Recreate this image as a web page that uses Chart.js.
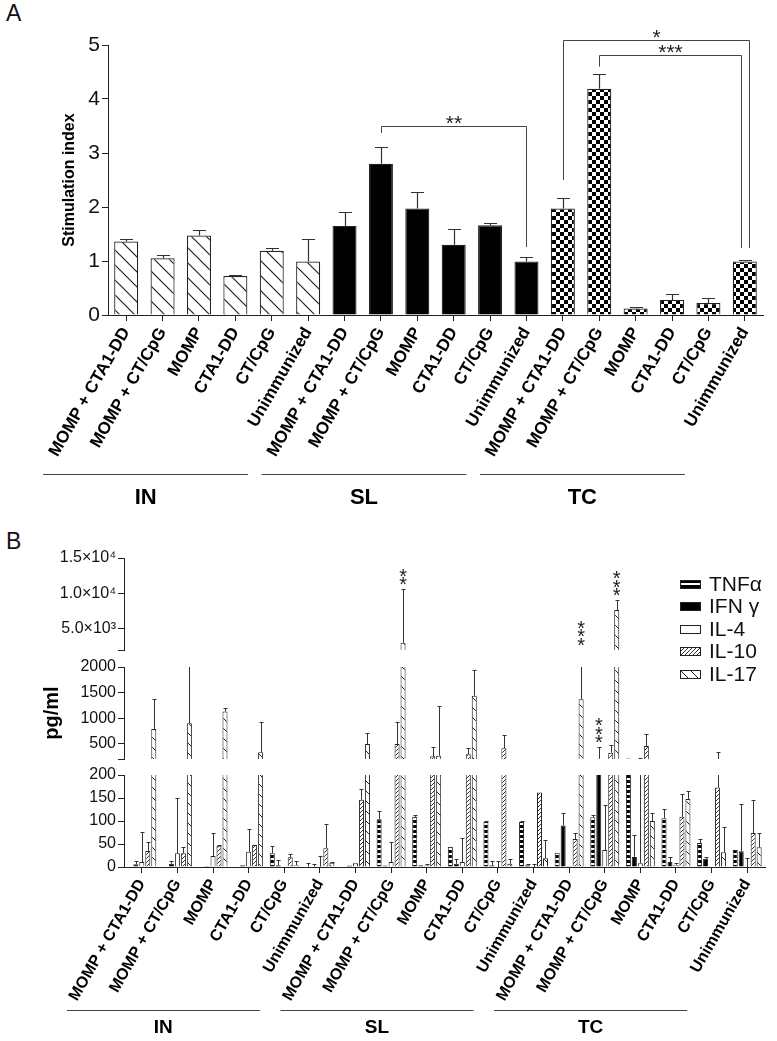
<!DOCTYPE html>
<html>
<head>
<meta charset="utf-8">
<script src="https://cdn.jsdelivr.net/npm/chart.js@4.4.1/dist/chart.umd.min.js"></script>
<style>
  body { margin: 0; background: #fff; width: 777px; height: 1041px; position: relative; overflow: hidden; font-family: "Liberation Sans", Arial, sans-serif; }
  canvas { position: absolute; left: 0; }
  .letter { position: absolute; left: 6px; font-size: 23px; line-height: 23px; color: #111; }
</style>
</head>
<body>
<div class="letter" style="top:2px">A</div>
<div class="letter" style="top:530px">B</div>
<canvas id="chartA" width="777" height="520" style="top:0"></canvas>
<canvas id="chartBMid" width="777" height="110" style="top:655px"></canvas>
<canvas id="chartBLow" width="777" height="276" style="top:765px"></canvas>
<canvas id="chartBTop" width="777" height="160" style="top:540px"></canvas>
<script>
// ---- shared categories ----
const treatments = ['MOMP + CTA1-DD', 'MOMP + CT/CpG', 'MOMP', 'CTA1-DD', 'CT/CpG', 'Unimmunized'];
const routes = ['IN', 'SL', 'TC'];
const labels = routes.flatMap(() => treatments);

// ---- panel A: stimulation index (mean, top of error bar) ----
const siMean = [1.36, 1.05, 1.47, 0.72, 1.19, 0.99, 1.65, 2.80, 1.97, 1.30, 1.66, 0.99, 1.97, 4.19, 0.12, 0.28, 0.22, 0.99];
const siErr  = [1.40, 1.11, 1.57, 0.75, 1.24, 1.40, 1.91, 3.11, 2.28, 1.59, 1.71, 1.07, 2.17, 4.46, 0.15, 0.39, 0.31, 1.02];
const siTicks = [0, 1, 2, 3, 4, 5];
// significance brackets: bar indices, bracket level and leg ends in data units
const siBrackets = [
  { from: 7, to: 11, top: 3.50, fromEnd: 3.37, toEnd: 1.26, label: '**', shift: 0 },
  { from: 12, to: 17, top: 5.10, fromEnd: 2.50, toEnd: 1.24, label: '*', shift: 4 },
  { from: 13, to: 17, top: 4.81, fromEnd: 4.60, toEnd: 1.24, label: '***', shift: -4 }
];

// ---- panel B: cytokines, pg/ml (value, top of error bar) ----
const cytokines = ['TNFα', 'IFN γ', 'IL-4', 'IL-10', 'IL-17'];
const tnf     = [0, 0, 0, 0, 30, 1,   1, 104, 109, 44, 98, 98,   31, 108, 212, 106, 52, 37];
const tnfErr  = [0, 0, 0, 0, 46, 8,   1, 122, 113, 44, 100, 101,  31, 113, 212, 126, 60, 37];
const ifn     = [6, 7, 2, 4, 4, 1,    3, 3, 4, 7, 4, 4,          90, 205, 22, 11, 18, 34];
const ifnErr  = [12, 12, 2, 4, 15, 6, 3, 3, 4, 17, 12, 7,        117, 430, 69, 21, 22, 136];
const il4     = [11, 30, 24, 33, 0, 1, 8, 11, 3, 11, 0, 0,       2, 37, 8, 5, 1, 0];
const il4Err  = [77, 149, 75, 83, 0, 24, 8, 55, 7, 64, 13, 6,    2, 135, 210, 9, 1, 19];
const il10    = [35, 30, 46, 48, 21, 41, 146, 494, 252, 292, 409, 162, 61, 324, 455, 109, 173, 74];
const il10Err = [55, 44, 48, 48, 28, 93, 170, 920, 429, 422, 671, 162, 75, 468, 684, 159, 344, 146];
const il17    = [789, 900, 1129, 331, 4, 9, 494, 3036, 265, 1437, 7, 19, 1371, 7652, 100, 148, 32, 43];
const il17Err = [1378, 2050, 1195, 920, 12, 11, 710, 10572, 1240, 1947, 18, 58, 2050, 9018, 117, 165, 86, 75];
const bTopTicks = [2000, 5000, 10000, 15000];
const bTopTickLabels = ['', '5.0×10³', '1.0×10⁴', '1.5×10⁴'];
const bMidTicks = [200, 500, 1000, 1500, 2000];
const bMidTickLabels = ['', '500', '1000', '1500', '2000'];
const bLowTicks = [0, 50, 100, 150, 200];
const bLowTickLabels = ['0', '50', '100', '150', '200'];
const sigMarks = [
  { cat: 7, series: 4, text: '**' },
  { cat: 12, series: 4, text: '***' },
  { cat: 13, series: 1, text: '***' },
  { cat: 13, series: 4, text: '***' }
];

// ---- patterns ----
function pattern(w, h, draw) {
  const c = document.createElement('canvas');
  c.width = w; c.height = h;
  const g = c.getContext('2d');
  draw(g, w, h);
  return g.createPattern(c, 'repeat');
}
function hatch(size, dir, color, lw) {
  return pattern(size, size, (g, s) => {
    g.fillStyle = '#fff'; g.fillRect(0, 0, s, s);
    g.strokeStyle = color; g.lineWidth = lw;
    g.beginPath();
    if (dir === 'back') {
      g.moveTo(-1, -1); g.lineTo(s + 1, s + 1);
      g.moveTo(s - 1, -1); g.lineTo(s + 1, 1);
      g.moveTo(-1, s - 1); g.lineTo(1, s + 1);
    } else {
      g.moveTo(-1, s + 1); g.lineTo(s + 1, -1);
      g.moveTo(-1, 1); g.lineTo(1, -1);
      g.moveTo(s - 1, s + 1); g.lineTo(s + 1, s - 1);
    }
    g.stroke();
  });
}
const hatchA = hatch(15, 'back', '#222', 1.2);
const checker = pattern(8, 8, (g) => {
  g.fillStyle = '#fff'; g.fillRect(0, 0, 8, 8);
  g.fillStyle = '#000'; g.fillRect(0, 0, 4, 4); g.fillRect(4, 4, 4, 4);
});
const tnfFill = pattern(4, 5, (g) => {
  g.fillStyle = '#000'; g.fillRect(0, 0, 4, 5);
  g.fillStyle = '#fff'; g.fillRect(0, 3, 4, 2);
});
const il10Fill = hatch(4, 'fwd', '#333', 1);
const il17Fill = hatch(10, 'back', '#222', 1);

const FONT = '"Liberation Sans", Arial, sans-serif';
const AXIS = '#222';

// ---- plugins ----
const errorBars = {
  id: 'errorBars',
  afterDatasetsDraw(chart, args, o) {
    const { ctx, chartArea: a } = chart;
    const y = chart.scales.y;
    ctx.save();
    if (o.clip) { ctx.beginPath(); ctx.rect(a.left - 5, a.top, a.right - a.left + 10, a.bottom - a.top); ctx.clip(); }
    ctx.strokeStyle = o.color; ctx.lineWidth = o.width;
    chart.data.datasets.forEach((ds, i) => {
      chart.getDatasetMeta(i).data.forEach((bar, j) => {
        const v = ds.data[j], e = ds.errTop[j];
        if (!(e > v)) return;
        const x = Math.round(bar.x) + 0.5;
        const yv = y.getPixelForValue(v), ye = Math.round(y.getPixelForValue(e)) + 0.5;
        ctx.beginPath();
        ctx.moveTo(x, yv); ctx.lineTo(x, ye);
        ctx.moveTo(x - o.cap / 2, ye); ctx.lineTo(x + o.cap / 2, ye);
        ctx.stroke();
      });
    });
    ctx.restore();
  }
};

const groupLabels = {
  id: 'groupLabels',
  afterDraw(chart, args, o) {
    const { ctx, chartArea: a } = chart;
    const x = chart.scales.x;
    ctx.save();
    ctx.strokeStyle = '#444'; ctx.lineWidth = 1;
    ctx.fillStyle = '#000';
    ctx.font = 'bold ' + o.size + 'px ' + FONT;
    ctx.textAlign = 'center'; ctx.textBaseline = 'middle';
    routes.forEach((name, g) => {
      const x0 = x.getPixelForValue(g * treatments.length) - o.left;
      const x1 = x.getPixelForValue(g * treatments.length + treatments.length - 1) - o.right;
      const yl = Math.round(a.bottom + o.lineY) + 0.5;
      ctx.beginPath(); ctx.moveTo(x0, yl); ctx.lineTo(x1, yl); ctx.stroke();
      ctx.fillText(name, (x0 + x1) / 2, a.bottom + o.textY);
    });
    ctx.restore();
  }
};

const brackets = {
  id: 'brackets',
  afterDraw(chart) {
    const { ctx } = chart;
    const x = chart.scales.x, y = chart.scales.y;
    ctx.save();
    ctx.strokeStyle = '#444'; ctx.lineWidth = 1;
    ctx.fillStyle = '#222'; ctx.font = '21px ' + FONT;
    ctx.textAlign = 'center'; ctx.textBaseline = 'alphabetic';
    siBrackets.forEach(b => {
      const x0 = Math.round(x.getPixelForValue(b.from)) + 0.5;
      const x1 = Math.round(x.getPixelForValue(b.to) + b.shift) + 0.5;
      const yt = Math.round(y.getPixelForValue(b.top)) + 0.5;
      ctx.beginPath();
      ctx.moveTo(x0, y.getPixelForValue(b.fromEnd)); ctx.lineTo(x0, yt);
      ctx.lineTo(x1, yt); ctx.lineTo(x1, y.getPixelForValue(b.toEnd));
      ctx.stroke();
      ctx.fillText(b.label, (x0 + x1) / 2, yt + 3);
    });
    ctx.restore();
  }
};

const sigStars = {
  id: 'sigStars',
  afterDatasetsDraw(chart) {
    const { ctx } = chart;
    const y = chart.scales.y;
    ctx.save();
    ctx.fillStyle = '#222'; ctx.font = '20px ' + FONT;
    ctx.textAlign = 'center'; ctx.textBaseline = 'alphabetic';
    sigMarks.forEach(m => {
      const e = chart.data.datasets[m.series].errTop[m.cat];
      if (e < y.min || e > y.max) return;
      const bar = chart.getDatasetMeta(m.series).data[m.cat];
      const ye = y.getPixelForValue(e);
      for (let k = 0; k < m.text.length; k++) {
        ctx.fillText('*', bar.x, ye - 9 - k * 8.5 + 11);
      }
    });
    ctx.restore();
  }
};

const cytoLegend = {
  id: 'cytoLegend',
  afterDraw(chart, args, o) {
    const { ctx, chartArea: a } = chart;
    ctx.save();
    ctx.font = '21px ' + FONT; ctx.textBaseline = 'middle';
    chart.data.datasets.forEach((ds, i) => {
      const yc = Math.round(a.top + o.top + i * o.step);
      const x0 = Math.round(a.right - o.right);
      ctx.fillStyle = ds.backgroundColor;
      ctx.fillRect(x0, yc - 4, 21, 9);
      ctx.strokeStyle = '#222'; ctx.lineWidth = 1;
      ctx.strokeRect(x0 + 0.5, yc - 3.5, 20, 8);
      ctx.fillStyle = '#111';
      ctx.fillText(ds.label, x0 + 29, yc + 1);
    });
    ctx.restore();
  }
};

// ---- panel A ----
const groupFill = [hatchA, '#000', checker];
new Chart(document.getElementById('chartA'), {
  type: 'bar',
  data: {
    labels: labels,
    datasets: [{
      label: 'Stimulation index',
      data: siMean,
      errTop: siErr,
      backgroundColor: labels.map((_, i) => groupFill[Math.floor(i / treatments.length)]),
      borderColor: AXIS,
      borderWidth: 1.2,
      categoryPercentage: 1,
      barPercentage: 0.66
    }]
  },
  options: {
    responsive: false,
    animation: false,
    layout: { padding: { left: 56, right: 14, top: 45, bottom: 0 } },
    plugins: {
      legend: { display: false },
      tooltip: { enabled: false },
      errorBars: { color: '#333', width: 1.2, cap: 13, clip: false },
      groupLabels: { size: 22, left: 83, right: 60, lineY: 159, textY: 183 }
    },
    scales: {
      x: {
        afterFit: s => { s.height = 205; s.paddingLeft = 0; s.paddingRight = 0; },
        grid: { offset: false, drawOnChartArea: false, tickLength: 6, color: AXIS },
        border: { color: AXIS, width: 1 },
        ticks: { autoSkip: false, minRotation: 60, maxRotation: 60, padding: 3, color: '#000', font: { family: FONT, size: 17, weight: 'bold' } }
      },
      y: {
        min: 0, max: 5,
        afterBuildTicks: s => { s.ticks = siTicks.map(v => ({ value: v })); },
        afterFit: s => { s.width = 52; s.paddingTop = 0; s.paddingBottom = 0; },
        grid: { drawOnChartArea: false, tickLength: 6, color: AXIS },
        border: { color: AXIS, width: 1 },
        ticks: { autoSkip: false, padding: 2, color: '#111', font: { family: FONT, size: 21 } },
        title: { display: true, text: 'Stimulation index', color: '#000', font: { family: FONT, size: 16, weight: 'bold' } }
      }
    }
  },
  plugins: [errorBars, groupLabels, brackets]
});

// ---- panel B: three stacked segments of a broken y axis ----
function cytoDatasets() {
  const vals = [tnf, ifn, il4, il10, il17];
  const errs = [tnfErr, ifnErr, il4Err, il10Err, il17Err];
  const fills = [tnfFill, '#000', '#fff', il10Fill, il17Fill];
  return cytokines.map((name, i) => ({
    label: name,
    data: vals[i],
    errTop: errs[i],
    backgroundColor: fills[i],
    borderColor: AXIS,
    borderWidth: 1,
    categoryPercentage: 0.84,
    barPercentage: 0.84,
    clip: 0
  }));
}

function segment(id, seg) {
  const showX = !!seg.xHeight;
  return new Chart(document.getElementById(id), {
    type: 'bar',
    data: { labels: labels, datasets: cytoDatasets() },
    options: {
      responsive: false,
      animation: false,
      layout: { padding: { left: seg.padLeft, right: 12, top: seg.padTop, bottom: seg.padBottom } },
      plugins: {
        legend: { display: false },
        tooltip: { enabled: false },
        errorBars: { color: '#333', width: 1, cap: 4, clip: true },
        groupLabels: { size: 19, left: 75, right: 60, lineY: 143, textY: 161 },
        cytoLegend: { top: 25.5, step: 22.6, right: 85 }
      },
      scales: {
        x: {
          display: showX,
          afterFit: s => { if (showX) { s.height = seg.xHeight; s.paddingLeft = 0; s.paddingRight = 0; } },
          grid: { offset: false, drawOnChartArea: false, tickLength: 6, color: AXIS },
          border: { color: AXIS, width: 1 },
          ticks: { autoSkip: false, minRotation: 60, maxRotation: 60, padding: 3, color: '#000', font: { family: FONT, size: 16, weight: 'bold' } }
        },
        y: {
          min: seg.min, max: seg.max,
          afterBuildTicks: s => { s.ticks = seg.ticks.map(v => ({ value: v })); },
          afterFit: s => { s.width = 124 - seg.padLeft; s.paddingTop = 0; s.paddingBottom = 0; },
          grid: { drawOnChartArea: false, tickLength: 6, color: AXIS },
          border: { color: AXIS, width: 1 },
          ticks: { autoSkip: false, padding: 2, color: '#111', font: { family: FONT, size: 16 }, callback: (v, i) => seg.tickLabels[i] },
          title: { display: !!seg.title, text: seg.title || '', color: '#000', font: { family: FONT, size: 20, weight: 'bold' } }
        }
      }
    },
    plugins: seg.plugins
  });
}

segment('chartBTop', { min: 2000, max: 15000, ticks: bTopTicks, tickLabels: bTopTickLabels, padLeft: 0, padTop: 18, padBottom: 50, plugins: [errorBars, sigStars, cytoLegend] });
segment('chartBMid', { min: 200, max: 2000, ticks: bMidTicks, tickLabels: bMidTickLabels, padLeft: 36, padTop: 12, padBottom: 6, title: 'pg/ml', plugins: [errorBars, sigStars] });
segment('chartBLow', { min: 0, max: 200, ticks: bLowTicks, tickLabels: bLowTickLabels, padLeft: 0, padTop: 10, padBottom: 0, xHeight: 174, plugins: [errorBars, sigStars, groupLabels] });
</script>
</body>
</html>
